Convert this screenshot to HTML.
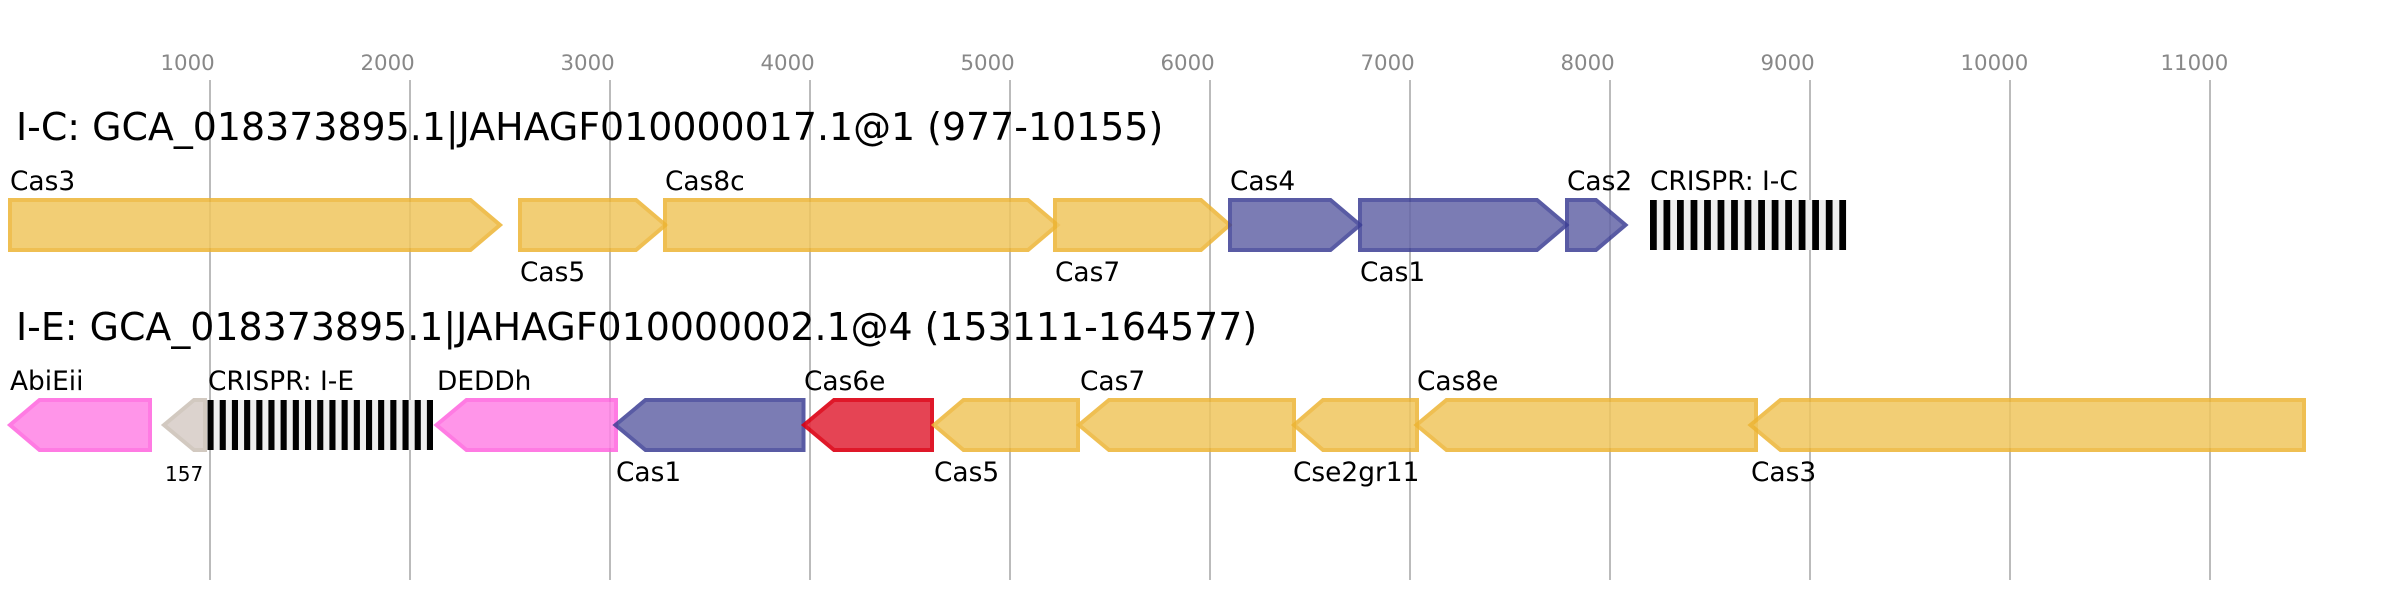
<!DOCTYPE html>
<html>
<head>
<meta charset="utf-8">
<style>
html,body{margin:0;padding:0;background:#fff;}
svg{display:block;}
text{font-family:"DejaVu Sans",sans-serif;}
.t{font-size:21.3px;fill:#888;}
.h{font-size:37.9px;fill:#000;}
.l{font-size:26.4px;fill:#000;}
.g polygon{stroke-width:4;opacity:.85;stroke-linejoin:miter;stroke-miterlimit:10;}
.g polygon.r{opacity:.9;}
.y{fill:#f0c65e;stroke:#edb534;}
.b{fill:#6566a8;stroke:#3d3f95;}
.p{fill:#ff83e6;stroke:#ff65df;}
.r{fill:#e33042;stroke:#dc0012;}
.n{fill:#d6ccc6;stroke:#cbc0b6;}
</style>
</head>
<body>
<svg xmlns="http://www.w3.org/2000/svg" width="2393" height="600" viewBox="0 0 2393 600">
<g stroke="#bbb" stroke-width="2">
<line x1="210" y1="80" x2="210" y2="580"/><line x1="410" y1="80" x2="410" y2="580"/><line x1="610" y1="80" x2="610" y2="580"/><line x1="810" y1="80" x2="810" y2="580"/><line x1="1010" y1="80" x2="1010" y2="580"/><line x1="1210" y1="80" x2="1210" y2="580"/><line x1="1410" y1="80" x2="1410" y2="580"/><line x1="1610" y1="80" x2="1610" y2="580"/><line x1="1810" y1="80" x2="1810" y2="580"/><line x1="2010" y1="80" x2="2010" y2="580"/><line x1="2210" y1="80" x2="2210" y2="580"/>
</g>
<g class="t">
<text x="160.5" y="70">1000</text><text x="360.5" y="70">2000</text><text x="560.5" y="70">3000</text><text x="760.5" y="70">4000</text><text x="960.5" y="70">5000</text><text x="1160.5" y="70">6000</text><text x="1360.5" y="70">7000</text><text x="1560.5" y="70">8000</text><text x="1760.5" y="70">9000</text><text x="1960.5" y="70">10000</text><text x="2160.5" y="70">11000</text>
</g>
<text class="h" x="16" y="140">I-C: GCA_018373895.1|JAHAGF010000017.1@1 (977-10155)</text>
<text class="h" x="16" y="340">I-E: GCA_018373895.1|JAHAGF010000002.1@4 (153111-164577)</text>
<g class="g">
<polygon class="y" points="10,200 470.5,200 500,225 470.5,250 10,250"/>
<polygon class="y" points="520,200 636,200 665.5,225 636,250 520,250"/>
<polygon class="y" points="665,200 1028,200 1057.5,225 1028,250 665,250"/>
<polygon class="y" points="1055,200 1201,200 1229.5,225 1201,250 1055,250"/>
<polygon class="b" points="1230,200 1330.5,200 1360,225 1330.5,250 1230,250"/>
<polygon class="b" points="1360,200 1537,200 1566.5,225 1537,250 1360,250"/>
<polygon class="b" points="1567,200 1596,200 1625.5,225 1596,250 1567,250"/>
<polygon class="p" points="10,425 39.5,400 150,400 150,450 39.5,450"/>
<polygon class="n" points="164,425 194,400 205,400 205,450 194,450"/>
<polygon class="p" points="436.5,425 466.5,400 616,400 616,450 466.5,450"/>
<polygon class="b" points="615.5,425 645.5,400 803.5,400 803.5,450 645.5,450"/>
<polygon class="r" points="804,425 834,400 932,400 932,450 834,450"/>
<polygon class="y" points="934,425 963.5,400 1078,400 1078,450 963.5,450"/>
<polygon class="y" points="1079,425 1109,400 1294,400 1294,450 1109,450"/>
<polygon class="y" points="1294,425 1323,400 1417,400 1417,450 1323,450"/>
<polygon class="y" points="1416.5,425 1446.5,400 1756,400 1756,450 1446.5,450"/>
<polygon class="y" points="1750.5,425 1780.5,400 2304,400 2304,450 1780.5,450"/>
</g>
<rect x="1650" y="200" width="196" height="50" fill="#eee"/>
<g fill="#000">
<rect x="1650" y="200" width="6.76" height="50"/><rect x="1663.5" y="200" width="6.76" height="50"/><rect x="1677" y="200" width="6.76" height="50"/><rect x="1690.6" y="200" width="6.76" height="50"/><rect x="1704.1" y="200" width="6.76" height="50"/><rect x="1717.6" y="200" width="6.76" height="50"/><rect x="1731.1" y="200" width="6.76" height="50"/><rect x="1744.6" y="200" width="6.76" height="50"/><rect x="1758.2" y="200" width="6.76" height="50"/><rect x="1771.7" y="200" width="6.76" height="50"/><rect x="1785.2" y="200" width="6.76" height="50"/><rect x="1798.7" y="200" width="6.76" height="50"/><rect x="1812.2" y="200" width="6.76" height="50"/><rect x="1825.8" y="200" width="6.76" height="50"/><rect x="1839.3" y="200" width="6.76" height="50"/>
</g>
<rect x="207.5" y="400" width="225.5" height="50" fill="#eee"/>
<g fill="#000">
<rect x="207.5" y="400" width="6.1" height="50"/><rect x="219.7" y="400" width="6.1" height="50"/><rect x="231.9" y="400" width="6.1" height="50"/><rect x="244.1" y="400" width="6.1" height="50"/><rect x="256.3" y="400" width="6.1" height="50"/><rect x="268.4" y="400" width="6.1" height="50"/><rect x="280.6" y="400" width="6.1" height="50"/><rect x="292.8" y="400" width="6.1" height="50"/><rect x="305" y="400" width="6.1" height="50"/><rect x="317.2" y="400" width="6.1" height="50"/><rect x="329.4" y="400" width="6.1" height="50"/><rect x="341.6" y="400" width="6.1" height="50"/><rect x="353.8" y="400" width="6.1" height="50"/><rect x="366" y="400" width="6.1" height="50"/><rect x="378.1" y="400" width="6.1" height="50"/><rect x="390.3" y="400" width="6.1" height="50"/><rect x="402.5" y="400" width="6.1" height="50"/><rect x="414.7" y="400" width="6.1" height="50"/><rect x="426.9" y="400" width="6.1" height="50"/>
</g>
<g class="l">
<text x="10" y="190">Cas3</text>
<text x="665" y="190">Cas8c</text>
<text x="1230" y="190">Cas4</text>
<text x="1567" y="190">Cas2</text>
<text x="1650" y="190">CRISPR: I-C</text>
<text x="520" y="281">Cas5</text>
<text x="1055" y="281">Cas7</text>
<text x="1360" y="281">Cas1</text>
<text x="10" y="390">AbiEii</text>
<text x="208" y="390">CRISPR: I-E</text>
<text x="437" y="390">DEDDh</text>
<text x="804" y="390">Cas6e</text>
<text x="1080" y="390">Cas7</text>
<text x="1417" y="390">Cas8e</text>
<text x="616" y="481">Cas1</text>
<text x="934" y="481">Cas5</text>
<text x="1293" y="481">Cse2gr11</text>
<text x="1751" y="481">Cas3</text>
</g>
<text x="165" y="481" style="font-size:20px;fill:#000">157</text>
</svg>
</body>
</html>
